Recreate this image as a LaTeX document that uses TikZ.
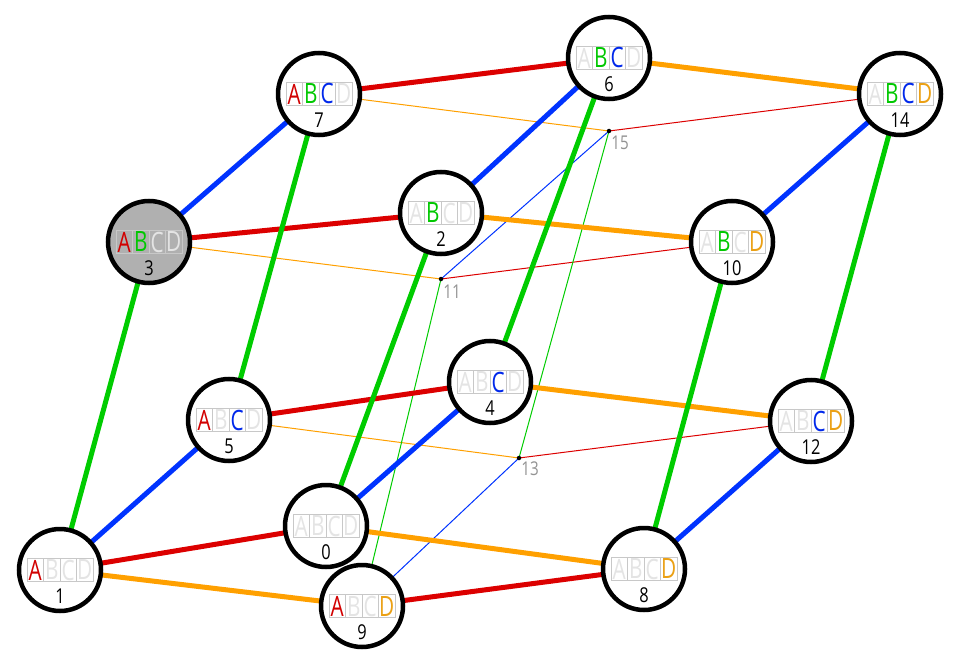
\documentclass[tikz,border=0pt]{standalone}
\usepackage{fontspec}
\usepackage{graphicx}
\setmainfont{Open Sans}
\usetikzlibrary{backgrounds}
\definecolor{eR}{RGB}{220,0,0}
\definecolor{eG}{RGB}{0,204,0}
\definecolor{eB}{RGB}{0,51,255}
\definecolor{eO}{RGB}{255,160,0}
\definecolor{lA}{RGB}{210,0,0}
\definecolor{lB}{RGB}{0,200,0}
\definecolor{lC}{RGB}{0,40,235}
\definecolor{lD}{RGB}{235,160,20}
\definecolor{gh}{RGB}{228,228,228}
\definecolor{cellb}{RGB}{200,200,200}
\newcommand\Lt[1]{\scalebox{0.74}[1]{#1}}
\newcommand\VX[9]{%
  \node[vtx,fill=#9] (#1) at (#2,#3) {};
  \node[cell,text=#4] (#1a) at ({#2-24.75},#3) {\Lt{A}};
  \node[cell,text=#5] (#1b) at ({#2-8.25},#3) {\Lt{B}};
  \node[cell,text=#6] (#1c) at ({#2+8.25},#3) {\Lt{C}};
  \node[cell,text=#7] (#1d) at ({#2+24.75},#3) {\Lt{D}};
  \node[num] (#1n) at (#2,{#3+26.5}) {\scalebox{0.8}[1]{#8}};
}
\begin{document}
\begin{tikzpicture}[x=1pt,y=-1pt,
  vtx/.style={circle,draw=black,line width=4.5pt,minimum size=82pt,inner sep=0pt},
  cell/.style={draw=cellb,line width=0.8pt,minimum width=16.5pt,minimum height=22.5pt,inner sep=0pt,font=\fontsize{28}{28}\selectfont},
  num/.style={inner sep=0pt,font=\fontsize{20.5}{20.5}\selectfont},
  pt/.style={circle,fill=black,inner sep=0pt,minimum size=4.5pt},
  plab/.style={inner sep=0pt,text=gray!85,font=\fontsize{19}{19}\selectfont},
  thk/.style={line width=5pt},
  thn/.style={line width=1pt}]
\useasboundingbox (0,0) rectangle (960,668);
% vertices
\VX{v0}{326}{526}{gh}{gh}{gh}{gh}{0}{white}
\VX{v1}{60}{570}{lA}{gh}{gh}{gh}{1}{white}
\VX{v2}{441}{213}{gh}{lB}{gh}{gh}{2}{white}
\VX{v3}{149}{242}{lA}{lB}{gh}{gh}{3}{gray!62}
\VX{v4}{490}{382}{gh}{gh}{lC}{gh}{4}{white}
\VX{v5}{229}{420}{lA}{gh}{lC}{gh}{5}{white}
\VX{v6}{609}{58}{gh}{lB}{lC}{gh}{6}{white}
\VX{v7}{319}{94}{lA}{lB}{lC}{gh}{7}{white}
\VX{v8}{644}{569}{gh}{gh}{gh}{lD}{8}{white}
\VX{v9}{362}{606}{lA}{gh}{gh}{lD}{9}{white}
\VX{v10}{732}{242}{gh}{lB}{gh}{lD}{10}{white}
\VX{v12}{811}{421}{gh}{gh}{lC}{lD}{12}{white}
\VX{v14}{900}{94}{gh}{lB}{lC}{lD}{14}{white}
% hidden points
\node[pt] (p11) at (441,279) {};
\node[pt] (p13) at (519,458) {};
\node[pt] (p15) at (609,131) {};
\node[plab] (l11) at (452,292) {\scalebox{0.8}[1]{11}};
\node[plab] (l13) at (530,469) {\scalebox{0.8}[1]{13}};
\node[plab] (l15) at (620,143) {\scalebox{0.8}[1]{15}};
\begin{scope}[on background layer]
% thin edges
\draw[thn,eR] (p11.center) -- (v10.center);
\draw[thn,eR] (p13.center) -- (v12.center);
\draw[thn,eR] (p15.center) -- (v14.center);
\draw[thn,eO] (v3.center) -- (p11.center);
\draw[thn,eO] (v5.center) -- (p13.center);
\draw[thn,eO] (v7.center) -- (p15.center);
\draw[thn,eB] (v9.center) -- (p13.center);
\draw[thn,eB] (p11.center) -- (p15.center);
\draw[thn,eG] (v9.center) -- (p11.center);
\draw[thn,eG] (p13.center) -- (p15.center);
% thick edges: A (red)
\draw[thk,eR] (v1.center) -- (v0.center);
\draw[thk,eR] (v9.center) -- (v8.center);
\draw[thk,eR] (v5.center) -- (v4.center);
\draw[thk,eR] (v3.center) -- (v2.center);
\draw[thk,eR] (v7.center) -- (v6.center);
% D (orange)
\draw[thk,eO] (v1.center) -- (v9.center);
\draw[thk,eO] (v0.center) -- (v8.center);
\draw[thk,eO] (v4.center) -- (v12.center);
\draw[thk,eO] (v2.center) -- (v10.center);
\draw[thk,eO] (v6.center) -- (v14.center);
% C (blue)
\draw[thk,eB] (v1.center) -- (v5.center);
\draw[thk,eB] (v0.center) -- (v4.center);
\draw[thk,eB] (v8.center) -- (v12.center);
\draw[thk,eB] (v3.center) -- (v7.center);
\draw[thk,eB] (v2.center) -- (v6.center);
\draw[thk,eB] (v10.center) -- (v14.center);
% B (green)
\draw[thk,eG] (v1.center) -- (v3.center);
\draw[thk,eG] (v0.center) -- (v2.center);
\draw[thk,eG] (v5.center) -- (v7.center);
\draw[thk,eG] (v4.center) -- (v6.center);
\draw[thk,eG] (v8.center) -- (v10.center);
\draw[thk,eG] (v12.center) -- (v14.center);
\end{scope}
\end{tikzpicture}
\end{document}
